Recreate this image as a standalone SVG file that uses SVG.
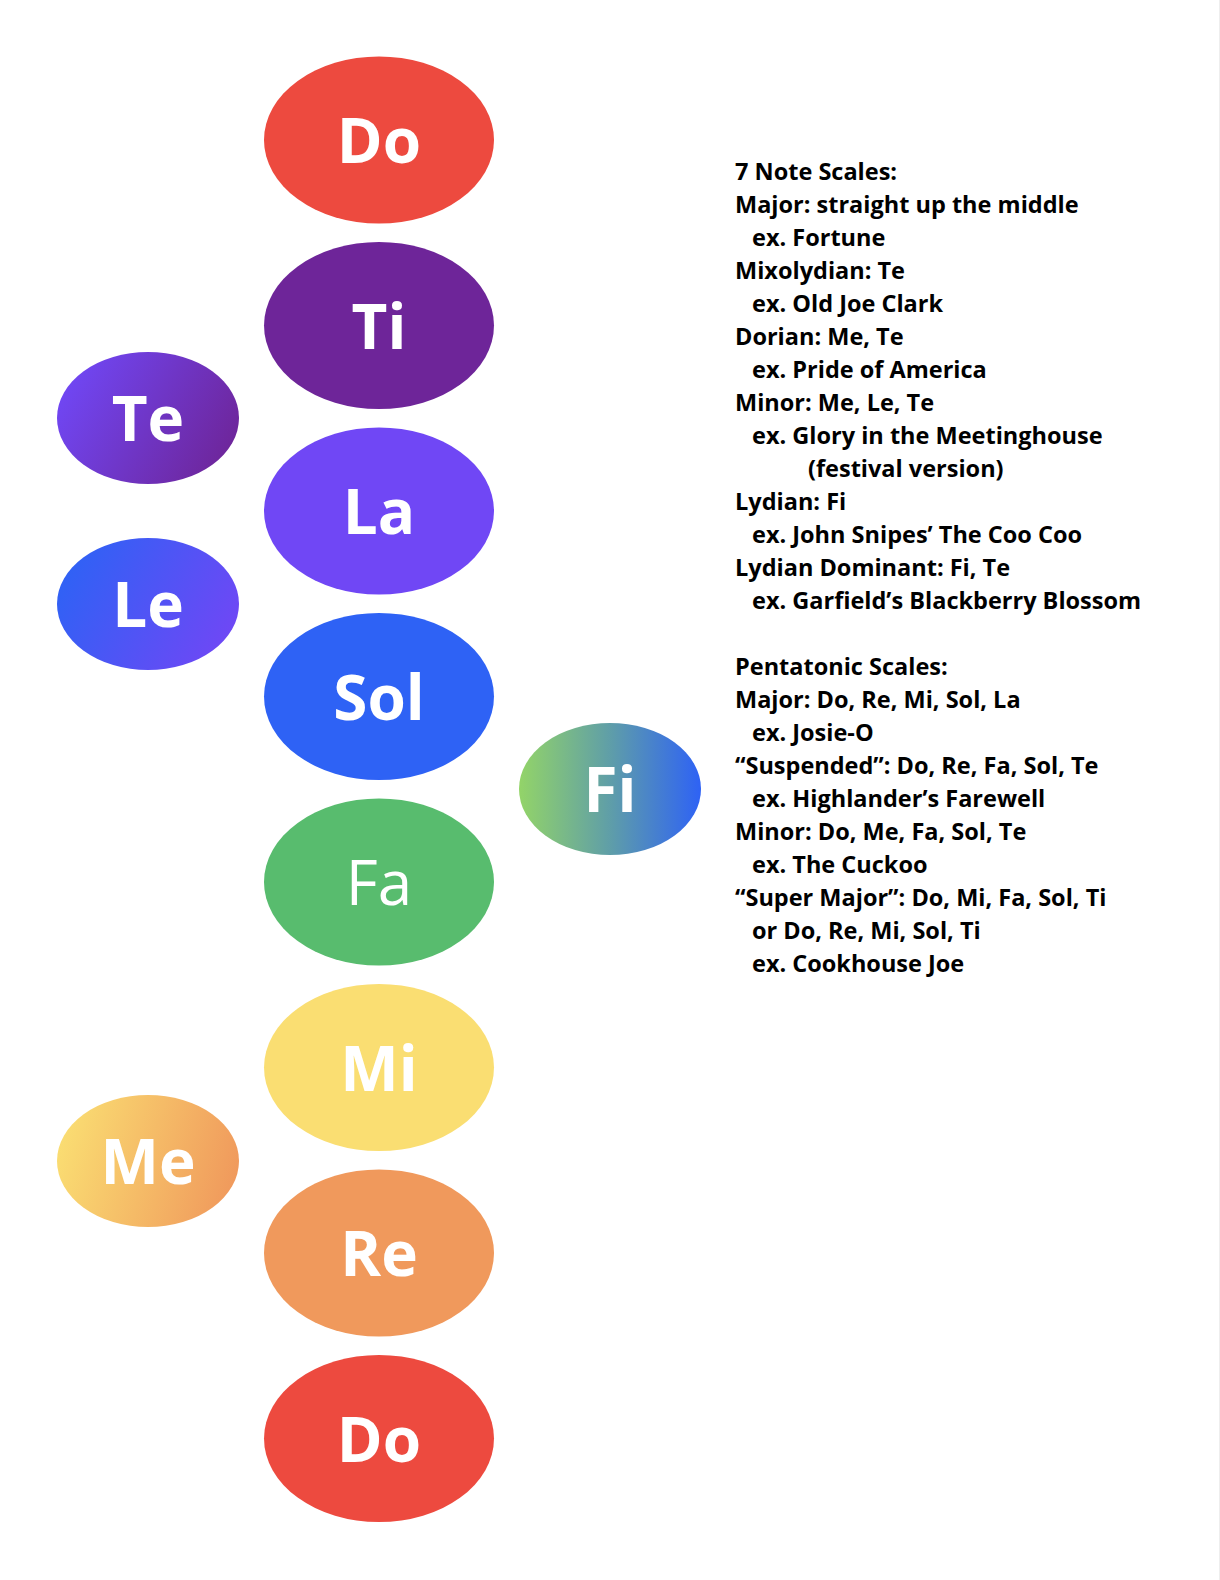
<svg xmlns="http://www.w3.org/2000/svg" width="1220" height="1580" viewBox="0 0 1220 1580">
<style>
.lbl{font-family:"Open Sans","Liberation Sans",sans-serif;font-weight:700;font-size:62px;fill:#ffffff;text-anchor:middle}
.reg{font-weight:400}
.txt{font-family:"Open Sans","Liberation Sans",sans-serif;font-weight:700;font-size:23.5px;fill:#000000}
</style>
<defs>
<linearGradient id="gTe" x1="0" y1="0.3" x2="1" y2="0.7"><stop offset="0" stop-color="#7047F5"/><stop offset="1" stop-color="#6E2599"/></linearGradient>
<linearGradient id="gLe" x1="0" y1="0.3" x2="1" y2="0.7"><stop offset="0" stop-color="#2E62F5"/><stop offset="1" stop-color="#7047F5"/></linearGradient>
<linearGradient id="gFi" x1="0" y1="0" x2="1" y2="0"><stop offset="0" stop-color="#93D468"/><stop offset="0.5" stop-color="#5F9EA8"/><stop offset="1" stop-color="#2E62F5"/></linearGradient>
<linearGradient id="gMe" x1="0" y1="0.4" x2="1" y2="0.6"><stop offset="0" stop-color="#FADD72"/><stop offset="1" stop-color="#F0995C"/></linearGradient>
</defs>
<rect width="1220" height="1580" fill="#ffffff"/>
<rect x="1219" y="0" width="1" height="1580" fill="#eeeeee"/>
<g id="connectors"></g>
<g id="do-top"><ellipse cx="379" cy="140" rx="115" ry="83.5" fill="#ED4A3F"/><text class="lbl" x="379" y="163">Do</text></g>
<g id="ti"><ellipse cx="379" cy="325.5" rx="115" ry="83.5" fill="#6E2599"/><text class="lbl" x="379" y="348.5">Ti</text></g>
<g id="la"><ellipse cx="379" cy="511" rx="115" ry="83.5" fill="#7047F5"/><text class="lbl" x="379" y="534">La</text></g>
<g id="sol"><ellipse cx="379" cy="696.5" rx="115" ry="83.5" fill="#2E62F5"/><text class="lbl" x="379" y="719.5">Sol</text></g>
<g id="fa"><ellipse cx="379" cy="882" rx="115" ry="83.5" fill="#58BC6E"/><text class="lbl reg" x="379" y="905">Fa</text></g>
<g id="mi"><ellipse cx="379" cy="1067.5" rx="115" ry="83.5" fill="#FADE72"/><text class="lbl" x="379" y="1090.5">Mi</text></g>
<g id="re"><ellipse cx="379" cy="1253" rx="115" ry="83.5" fill="#F0995C"/><text class="lbl" x="379" y="1276">Re</text></g>
<g id="do-bottom"><ellipse cx="379" cy="1438.5" rx="115" ry="83.5" fill="#ED4A3F"/><text class="lbl" x="379" y="1461.5">Do</text></g>
<g id="te"><ellipse cx="148" cy="418" rx="91" ry="66" fill="url(#gTe)"/><text class="lbl" x="148" y="441">Te</text></g>
<g id="le"><ellipse cx="148" cy="604" rx="91" ry="66" fill="url(#gLe)"/><text class="lbl" x="148" y="627">Le</text></g>
<g id="fi"><ellipse cx="610" cy="789" rx="91" ry="66" fill="url(#gFi)"/><text class="lbl" x="610" y="812">Fi</text></g>
<g id="me"><ellipse cx="148" cy="1161" rx="91" ry="66" fill="url(#gMe)"/><text class="lbl" x="148" y="1184">Me</text></g>
<g id="notes" class="txt">
<text x="735" y="180">7 Note Scales:</text>
<text x="735" y="213">Major: straight up the middle</text>
<text x="752" y="246">ex. Fortune</text>
<text x="735" y="279">Mixolydian: Te</text>
<text x="752" y="312">ex. Old Joe Clark</text>
<text x="735" y="345">Dorian: Me, Te</text>
<text x="752" y="378">ex. Pride of America</text>
<text x="735" y="411">Minor: Me, Le, Te</text>
<text x="752" y="444">ex. Glory in the Meetinghouse</text>
<text x="808" y="477">(festival version)</text>
<text x="735" y="510">Lydian: Fi</text>
<text x="752" y="543">ex. John Snipes’ The Coo Coo</text>
<text x="735" y="576">Lydian Dominant: Fi, Te</text>
<text x="752" y="609">ex. Garfield’s Blackberry Blossom</text>
<text x="735" y="675">Pentatonic Scales:</text>
<text x="735" y="708">Major: Do, Re, Mi, Sol, La</text>
<text x="752" y="741">ex. Josie-O</text>
<text x="735" y="774">“Suspended”: Do, Re, Fa, Sol, Te</text>
<text x="752" y="807">ex. Highlander’s Farewell</text>
<text x="735" y="840">Minor: Do, Me, Fa, Sol, Te</text>
<text x="752" y="873">ex. The Cuckoo</text>
<text x="735" y="906">“Super Major”: Do, Mi, Fa, Sol, Ti</text>
<text x="752" y="939">or Do, Re, Mi, Sol, Ti</text>
<text x="752" y="972">ex. Cookhouse Joe</text>
</g>
</svg>
